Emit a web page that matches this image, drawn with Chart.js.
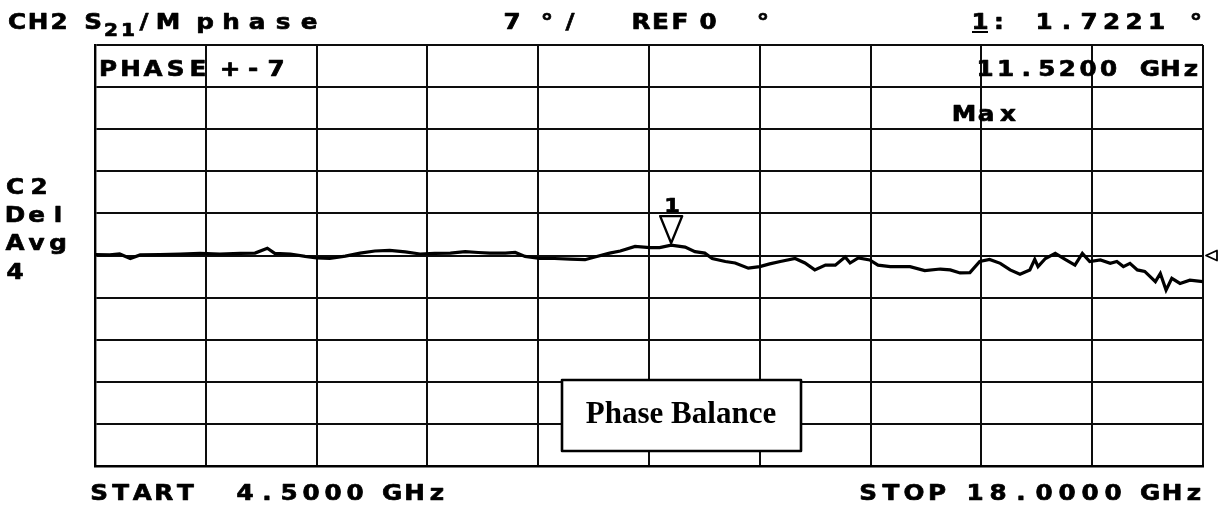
<!DOCTYPE html>
<html>
<head>
<meta charset="utf-8">
<title>S21 phase</title>
<script src="https://cdn.jsdelivr.net/npm/chart.js@4.4.1/dist/chart.umd.min.js"></script>
<style>
    html, body { margin: 0; padding: 0; background: #fff; }
    #phaseChart { display: block; }
</style>
</head>
<body>
<canvas id="phaseChart" width="1222" height="506"></canvas>
<script>
// trace: frequency (GHz) vs phase (deg)
const freqGHz = [4.50, 4.68, 4.80, 4.93, 5.05, 5.29, 5.54, 5.78, 6.02, 6.27, 6.45, 6.60, 6.69, 6.88, 7.06, 7.20,
    7.36, 7.55, 7.73, 7.91, 8.09, 8.28, 8.46, 8.64, 8.83, 9.01, 9.17, 9.31, 9.50, 9.62, 9.74, 9.92, 10.10, 10.29,
    10.47, 10.59, 10.77, 10.90, 11.08, 11.26, 11.38, 11.52, 11.69, 11.81, 11.93, 12.02, 12.18, 12.30, 12.46, 12.60,
    12.72, 12.85, 13.03, 13.15, 13.27, 13.40, 13.52, 13.64, 13.70, 13.80, 13.94, 14.04, 14.19, 14.43, 14.61, 14.80,
    14.92, 15.04, 15.16, 15.28, 15.40, 15.53, 15.65, 15.77, 15.89, 15.95, 15.99, 16.08, 16.20, 16.32, 16.44, 16.53,
    16.62, 16.75, 16.87, 16.95, 17.03, 17.11, 17.20, 17.29, 17.42, 17.48, 17.55, 17.62, 17.72, 17.84, 18.00];
const phaseDeg = [0.15, 0.1, 0.25, -0.5, 0.1, 0.15, 0.25, 0.35, 0.25, 0.35, 0.4, 1.2, 0.35, 0.25, -0.15, -0.4,
    -0.5, -0.1, 0.4, 0.75, 0.85, 0.6, 0.25, 0.35, 0.4, 0.65, 0.5, 0.4, 0.4, 0.5, -0.15, -0.5, -0.5, -0.6,
    -0.7, -0.25, 0.4, 0.75, 1.5, 1.3, 1.3, 1.72, 1.4, 0.65, 0.4, -0.5, -1.0, -1.25, -2.1, -1.85,
    -1.4, -1.0, -0.5, -1.25, -2.4, -1.6, -1.6, -0.25, -1.25, -0.4, -0.75, -1.6, -1.85, -1.85, -2.5, -2.25,
    -2.4, -2.9, -2.85, -1.0, -0.65, -1.3, -2.4, -3.1, -2.4, -0.65, -1.85, -0.5, 0.35, -0.65, -1.6, 0.35,
    -1.0, -0.75, -1.3, -1.0, -1.85, -1.3, -2.4, -2.65, -4.35, -3.0, -5.75, -3.8, -4.65, -4.1, -4.35];

const startGHz = 4.5;
const stopGHz = 18.0;
const refDeg = 0;
const degPerDiv = 7;
const divisions = 10;
const markerGHz = 11.52;
const markerDeg = 1.7221;

const PLOT_FONT = '"DejaVu Sans", sans-serif';

// plotter-style fixed pitch text, one stretched glyph per cell
function plotText(ctx, str, firstCenter, baseline, pitch, size) {
    ctx.font = 'bold ' + size + 'px ' + PLOT_FONT;
    ctx.textAlign = 'center';
    ctx.textBaseline = 'alphabetic';
    ctx.lineWidth = 0.7;
    ctx.lineJoin = 'round';
    for (let i = 0; i < str.length; i++) {
        ctx.save();
        ctx.translate(firstCenter + i * pitch, baseline);
        ctx.scale(1.12, 1);
        ctx.fillText(str[i], 0, 0);
        ctx.strokeText(str[i], 0, 0);
        ctx.restore();
    }
}

const analyzerAnnotations = {
    id: 'analyzerAnnotations',
    afterDraw(chart) {
        const ctx = chart.ctx;
        const xs = chart.scales.x;
        const ys = chart.scales.y;
        const area = chart.chartArea;
        ctx.save();
        ctx.fillStyle = '#000';
        ctx.strokeStyle = '#000';

        // header line
        plotText(ctx, 'CH2', 17, 29, 21, 22);
        plotText(ctx, 'S', 93, 29, 20, 22);
        plotText(ctx, '21', 111, 36, 17, 18);
        plotText(ctx, '/M', 144, 29, 24, 22);
        plotText(ctx, 'phase', 205, 29, 26, 22);
        plotText(ctx, '7', 512, 29, 20, 22);
        plotText(ctx, '°/', 547, 29, 23, 22);
        plotText(ctx, 'REF', 641, 29, 19.5, 22);
        plotText(ctx, '0', 708, 29, 20, 22);
        plotText(ctx, '°', 763, 29, 20, 22);
        plotText(ctx, '1:', 980, 29, 19, 22);
        ctx.fillRect(972, 31, 16, 2);
        plotText(ctx, '1.7221', 1044, 29, 22.5, 22);
        plotText(ctx, '°', 1196, 29, 20, 22);

        // inside the graticule
        plotText(ctx, 'PHASE', 108, 76, 22.5, 22);
        plotText(ctx, '+-7', 230, 76, 23, 22);
        plotText(ctx, '11.5200 GHz', 985, 76, 20.6, 22);
        plotText(ctx, 'Max', 964, 121, 22, 22);

        // left status block
        plotText(ctx, 'C2', 15, 194, 24, 22);
        plotText(ctx, 'Del', 15, 222, 21.5, 22);
        plotText(ctx, 'Avg', 15, 250, 21.5, 22);
        plotText(ctx, '4', 15, 279, 21, 22);

        // start / stop
        plotText(ctx, 'START', 99, 500, 21.6, 22);
        plotText(ctx, '4.5000', 245, 500, 22, 22);
        plotText(ctx, 'GHz', 392, 500, 22.5, 22);
        plotText(ctx, 'STOP', 868, 500, 23, 22);
        plotText(ctx, '18.0000', 975, 500, 23, 22);
        plotText(ctx, 'GHz', 1150, 500, 22, 22);

        // marker 1 (open triangle with apex on the trace)
        const mx = xs.getPixelForValue(markerGHz);
        const my = ys.getPixelForValue(markerDeg);
        ctx.lineWidth = 2.4;
        ctx.beginPath();
        ctx.moveTo(mx, my - 2);
        ctx.lineTo(mx - 11, my - 29);
        ctx.lineTo(mx + 11, my - 29);
        ctx.closePath();
        ctx.fillStyle = '#fff';
        ctx.fill();
        ctx.stroke();
        ctx.fillStyle = '#000';
        plotText(ctx, '1', mx + 1, my - 33, 20, 20);

        // reference level pointer on the right edge
        const ry = ys.getPixelForValue(refDeg);
        ctx.lineWidth = 1.8;
        ctx.beginPath();
        ctx.moveTo(area.right + 3, ry);
        ctx.lineTo(area.right + 14, ry - 5);
        ctx.lineTo(area.right + 14, ry + 5);
        ctx.closePath();
        ctx.stroke();

        // caption box
        ctx.fillStyle = '#fff';
        ctx.fillRect(562, 380, 239, 71);
        ctx.lineWidth = 2.6;
        ctx.strokeRect(562, 380, 239, 71);
        ctx.fillStyle = '#000';
        ctx.font = 'bold 31px "Liberation Serif", "Times New Roman", serif';
        ctx.textAlign = 'center';
        ctx.fillText('Phase Balance', 681, 423);

        ctx.restore();
    }
};

const gridStyle = { color: '#0d0d0d', lineWidth: 2, drawTicks: false };
const borderStyle = { display: true, color: '#000', width: 2.4 };

new Chart(document.getElementById('phaseChart'), {
    type: 'line',
    data: {
        datasets: [{
            label: 'S21 phase',
            data: freqGHz.map((f, i) => ({ x: f, y: phaseDeg[i] })),
            borderColor: '#000',
            borderWidth: 3.2,
            pointRadius: 0,
            tension: 0,
            fill: false
        }]
    },
    options: {
        responsive: false,
        animation: false,
        events: [],
        layout: { padding: { left: 95, top: 45, right: 19, bottom: 40 } },
        plugins: { legend: { display: false }, tooltip: { enabled: false } },
        scales: {
            x: {
                type: 'linear',
                min: startGHz,
                max: stopGHz,
                ticks: { display: false, count: divisions + 1 },
                grid: gridStyle,
                border: borderStyle
            },
            y: {
                type: 'linear',
                min: refDeg - degPerDiv * divisions / 2,
                max: refDeg + degPerDiv * divisions / 2,
                ticks: { display: false, stepSize: degPerDiv },
                grid: gridStyle,
                border: borderStyle
            }
        }
    },
    plugins: [analyzerAnnotations]
});
</script>
</body>
</html>
